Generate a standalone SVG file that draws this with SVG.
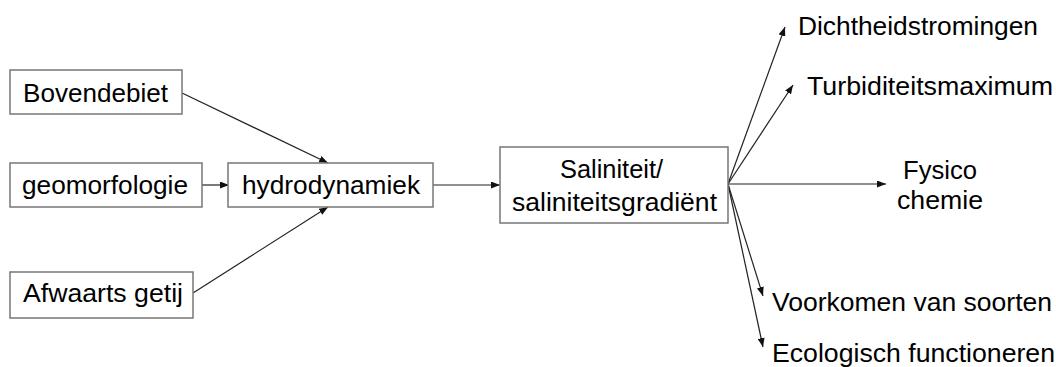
<svg xmlns="http://www.w3.org/2000/svg" width="1056" height="367" viewBox="0 0 1056 367">
<style>
.box{fill:#fff;stroke:#777;stroke-width:1.5}
.t{font-family:"Liberation Sans",Arial,sans-serif;font-size:26px;fill:#000}
.c{stroke:#222;stroke-width:1.2;fill:none;marker-end:url(#ah)}
</style>
<defs>
<marker id="ah" markerUnits="userSpaceOnUse" markerWidth="9" markerHeight="7" refX="9" refY="3.5" orient="auto">
<path d="M0,0 L9,3.5 L0,7 z" fill="#111"/>
</marker>
</defs>
<rect width="1056" height="367" fill="#fff"/>
<g id="connectors">
<line class="c" x1="182" y1="93" x2="328" y2="163"/>
<line class="c" x1="202" y1="185" x2="229" y2="185"/>
<line class="c" x1="193" y1="293" x2="328" y2="207"/>
<line class="c" x1="433" y1="185" x2="500" y2="185"/>
<line class="c" x1="728" y1="184" x2="785" y2="27"/>
<line class="c" x1="728" y1="184" x2="793" y2="85"/>
<line class="c" x1="728" y1="184" x2="886" y2="184"/>
<line class="c" x1="728" y1="184" x2="763" y2="296"/>
<line class="c" x1="728" y1="184" x2="763" y2="347"/>
</g>
<g id="bovendebiet">
<rect class="box" x="10" y="70" width="172" height="44"/>
<text class="t" x="23" y="102" textLength="145" lengthAdjust="spacingAndGlyphs">Bovendebiet</text>
</g>
<g id="geomorfologie">
<rect class="box" x="10" y="163" width="192" height="44"/>
<text class="t" x="22" y="194" textLength="166" lengthAdjust="spacingAndGlyphs">geomorfologie</text>
</g>
<g id="afwaarts">
<rect class="box" x="10" y="272" width="183" height="46"/>
<text class="t" x="23" y="302" textLength="160" lengthAdjust="spacingAndGlyphs">Afwaarts getij</text>
</g>
<g id="hydrodynamiek">
<rect class="box" x="228" y="163" width="205" height="44"/>
<text class="t" x="242" y="194" textLength="178" lengthAdjust="spacingAndGlyphs">hydrodynamiek</text>
</g>
<g id="saliniteit">
<rect class="box" x="500" y="147" width="228" height="76"/>
<text class="t" x="560" y="178" textLength="103" lengthAdjust="spacingAndGlyphs">Saliniteit/</text>
<text class="t" x="512" y="211" textLength="205" lengthAdjust="spacingAndGlyphs">saliniteitsgradiënt</text>
</g>
<g id="dichtheidstromingen">
<text class="t" x="798" y="35" textLength="240" lengthAdjust="spacingAndGlyphs">Dichtheidstromingen</text>
</g>
<g id="turbiditeitsmaximum">
<text class="t" x="807" y="95" textLength="246" lengthAdjust="spacingAndGlyphs">Turbiditeitsmaximum</text>
</g>
<g id="fysicochemie">
<text class="t" x="903" y="179" textLength="74" lengthAdjust="spacingAndGlyphs">Fysico</text>
<text class="t" x="897" y="209" textLength="86" lengthAdjust="spacingAndGlyphs">chemie</text>
</g>
<g id="voorkomen">
<text class="t" x="772" y="311" textLength="280" lengthAdjust="spacingAndGlyphs">Voorkomen van soorten</text>
</g>
<g id="ecologisch">
<text class="t" x="772" y="362" textLength="283" lengthAdjust="spacingAndGlyphs">Ecologisch functioneren</text>
</g>
</svg>
